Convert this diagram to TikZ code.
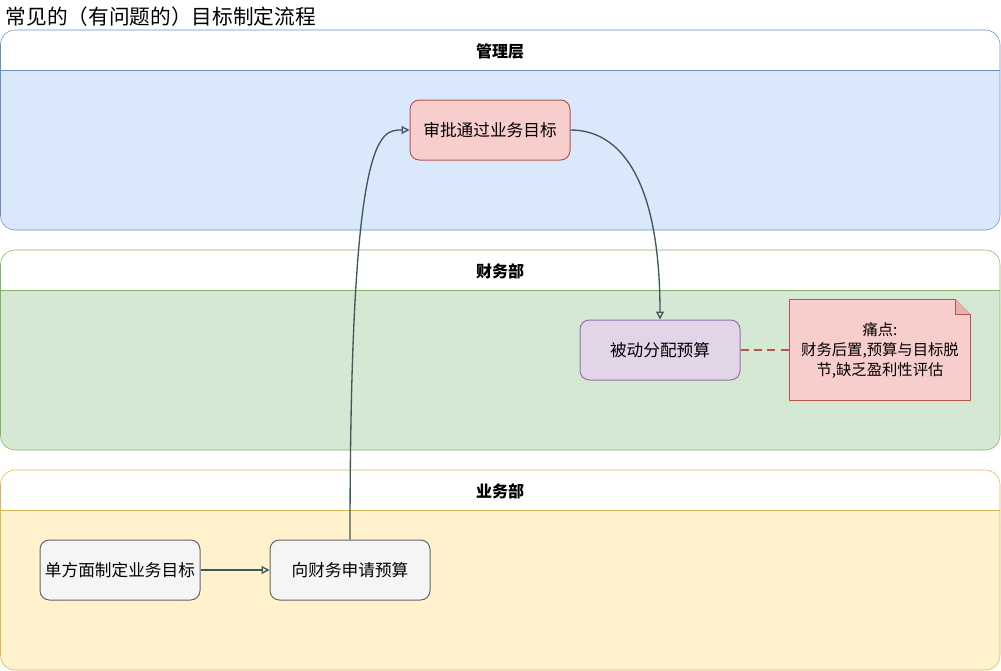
\documentclass[tikz,border=0pt]{standalone}
\usepackage{fontspec}
\setmainfont{Noto Sans CJK SC}
\usetikzlibrary{arrows.meta, positioning, calc, backgrounds}
\definecolor{lblue}{HTML}{DAE8FC}
\definecolor{dblue}{HTML}{6C8EBF}
\definecolor{lgreen}{HTML}{D5E8D4}
\definecolor{dgreen}{HTML}{82B366}
\definecolor{lyellow}{HTML}{FFF2CC}
\definecolor{dyellow}{HTML}{D6B656}
\definecolor{lred}{HTML}{F8CECC}
\definecolor{dred}{HTML}{B85450}
\definecolor{lpurple}{HTML}{E1D5E7}
\definecolor{dpurple}{HTML}{9673A6}
\definecolor{lgrey}{HTML}{F5F5F5}
\definecolor{dgrey}{HTML}{666666}
\definecolor{cedge}{HTML}{3D5A5A}
\tikzset{
  box/.style={draw=d#1, fill=l#1, rounded corners=7pt, align=center, minimum width=120pt, minimum height=45pt, font=\fontsize{12.5}{15}\selectfont},
  box/.default=grey,
  flow/.style={-{Triangle[open, length=6pt, width=6pt]}, draw=cedge, line width=1pt},
  lanetitle/.style={font=\bfseries\fontsize{12}{14}\selectfont},
  notetext/.style={align=center, minimum width=135pt, minimum height=75pt, font=\fontsize{11.5}{15}\selectfont},
}
\begin{document}
\begin{tikzpicture}[x=0.75pt, y=-0.75pt, line width=0.75pt]
  \useasboundingbox (0,0) rectangle (1001,671);
  \node[anchor=west, font=\fontsize{15.5}{18}\selectfont] (title) at (1,17) {常见的（有问题的）目标制定流程};
  % swimlanes
  \begin{scope}[on background layer]
    \foreach \y/\c/\t [count=\i] in {30/blue/管理层, 250/green/财务部, 470/yellow/业务部} {
      \fill[l\c, rounded corners=11pt] (0.5,\y+40) rectangle (1000,\y+200);
      \fill[l\c] (0.5,\y+40) rectangle (1000,\y+100);
      \draw[d\c] (0.5,\y+40) -- (1000,\y+40);
      \draw[d\c, rounded corners=11pt] (0.5,\y) rectangle (1000,\y+200);
      \node[lanetitle] (lane\i) at (500,\y+21) {\t};
    }
  \end{scope}
  \node[box=red] (approve) at (490,130) {审批通过业务目标};
  \node[box=purple] (alloc) at (660,350) {被动分配预算};
  \node[box] (plan) at (120,570) {单方面制定业务目标};
  \node[box] (apply) at (350,570) {向财务申请预算};
  \node[notetext] (pain) at (880,350) {痛点:\\财务后置,预算与目标脱\\节,缺乏盈利性评估};
  \begin{scope}[on background layer]
    \draw[dred, fill=lred] (pain.north west) -- ($(pain.north east)+(-15,0)$) -- ($(pain.north east)+(0,15)$) -- (pain.south east) -- (pain.south west) -- cycle;
    \draw[dred, fill=dred!25!lred] ($(pain.north east)+(-15,0)$) -- ($(pain.north east)+(-15,15)$) -- ($(pain.north east)+(0,15)$);
  \end{scope}
  \draw[flow] (plan) -- (apply);
  \draw[flow] (apply.north) .. controls (apply.north |- approve.west) and ($(approve.west)+(-30,0)$) .. (approve.west);
  \draw[flow] (approve.east) .. controls ($(approve.east)+(50,0)$) and ($(alloc.north)+(0,-140)$) .. (alloc.north);
  \draw[dred, line width=1pt, dash pattern=on 6pt off 4pt] (alloc) -- (pain);
\end{tikzpicture}
\end{document}
